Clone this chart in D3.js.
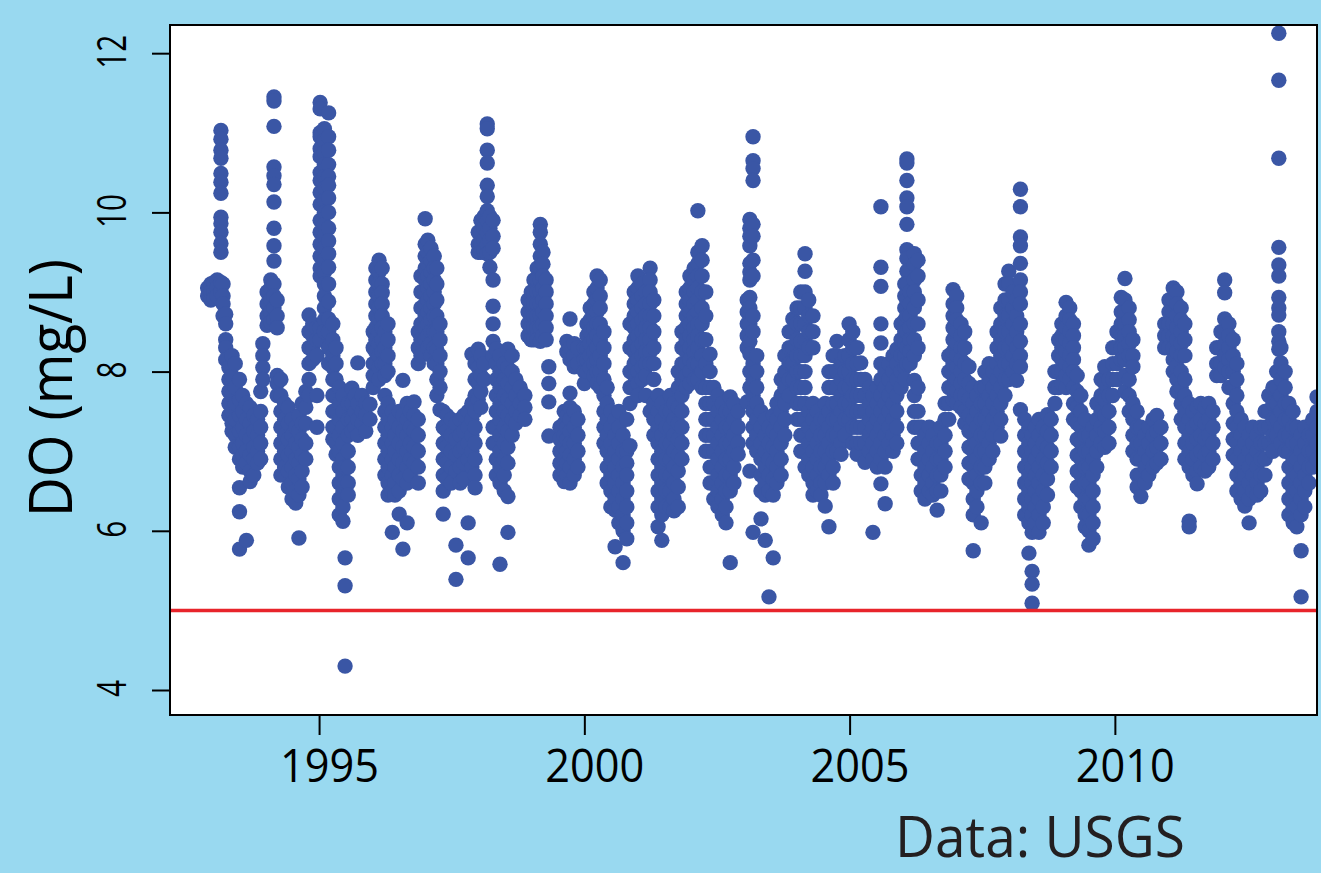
<!DOCTYPE html>
<html>
<head>
<meta charset="utf-8">
<script src="https://cdn.jsdelivr.net/npm/d3@7"></script>
<style>
  html, body { margin: 0; padding: 0; background: #99d9f0; }
  svg { display: block; font-family: "Open Sans", sans-serif; }
</style>
</head>
<body>
<svg id="chart" width="1321" height="873"></svg>
<script>
const xTicks = [1995, 2000, 2005, 2010]
const yTicks = [4, 6, 8, 10, 12]
const xDomain = [1992.19, 2013.81]
const yDomain = [3.686, 12.354]
const doLimit = 5
const yTitle = "DO (mg/L)"
const credit = "Data: USGS"

// each row: [decimal year, DO readings in mg/L ...]
const do1993to1996 = [
  [1992.90, 9.05, 8.95], [1992.96, 9.1, 9.0, 8.9], [1993.02, 9.0, 9.12, 8.92], [1993.08, 9.15, 9.05, 8.95],
  [1993.15, 11.03, 10.92, 10.78, 10.68, 10.49, 10.38, 10.24, 9.94, 9.86, 9.75, 9.61, 9.5, 9.12, 9.0],
  [1993.19, 9.1, 8.95, 8.85, 8.7], [1993.24, 8.72, 8.6, 8.4, 8.3, 8.15], [1993.30, 8.05, 7.9, 7.75, 7.6, 7.45],
  [1993.36, 8.2, 7.95, 7.7, 7.5, 7.35, 7.25], [1993.42, 8.1, 7.8, 7.6, 7.4, 7.2, 7.05],
  [1993.50, 7.9, 7.65, 7.45, 7.25, 7.05, 6.9, 6.54, 6.24, 5.77], [1993.56, 7.7, 7.5, 7.3, 7.1, 6.95, 6.8],
  [1993.63, 7.6, 7.4, 7.2, 7.0, 6.85, 5.88], [1993.70, 7.55, 7.35, 7.15, 6.95, 6.75, 6.62],
  [1993.77, 7.45, 7.25, 7.05, 6.9, 6.7], [1993.84, 7.4, 7.2, 7.0, 6.85], [1993.90, 7.75, 7.5, 7.3, 7.1, 6.9],
  [1993.94, 8.35, 8.2, 8.05, 7.9],
  [1994.02, 9.0, 8.85, 8.7, 8.58], [1994.09, 9.15, 9.05, 8.9, 8.75, 8.62],
  [1994.15, 11.45, 11.4, 11.08, 10.57, 10.46, 10.35, 10.13, 9.8, 9.58, 9.39, 9.1, 8.95, 8.8, 8.65],
  [1994.21, 8.9, 8.7, 8.55, 7.95, 7.85, 7.7], [1994.28, 7.9, 7.7, 7.5, 7.3, 7.1, 6.9, 6.7],
  [1994.35, 7.6, 7.4, 7.2, 7.0, 6.8], [1994.42, 7.55, 7.35, 7.15, 6.95, 6.75, 6.55],
  [1994.49, 7.4, 7.2, 7.0, 6.8, 6.6, 6.4], [1994.56, 7.3, 7.1, 6.9, 6.7, 6.5, 6.35],
  [1994.62, 7.45, 7.25, 7.05, 6.85, 6.65, 6.45, 5.91], [1994.68, 7.6, 7.35, 7.15, 6.95, 6.75, 6.55],
  [1994.75, 7.75, 7.55, 7.35, 7.1, 6.9], [1994.81, 8.71, 8.5, 8.3, 8.1, 7.9, 7.7],
  [1994.88, 8.6, 8.45, 8.3, 8.15], [1994.96, 8.55, 8.4, 8.2, 7.7, 7.3],
  [1995.02, 11.38, 11.3, 11.0, 10.95, 10.8, 10.7, 10.5, 10.4, 10.25, 10.1, 9.9, 9.75, 9.6, 9.45, 9.3, 9.2, 8.55, 8.4],
  [1995.10, 11.05, 10.9, 10.75, 10.6, 10.45, 10.3, 10.15, 10.0, 9.85, 9.7, 9.55, 9.4, 9.25, 9.1, 8.95, 8.8, 8.65, 8.5],
  [1995.18, 11.25, 10.95, 10.78, 10.6, 10.45, 10.34, 10.18, 10.0, 9.8, 9.64, 9.48, 9.31, 9.1, 8.88, 8.66, 8.5, 8.3, 8.1],
  [1995.26, 8.6, 8.4, 8.2, 8.05, 7.9, 7.7, 7.5, 7.3, 7.15], [1995.32, 8.3, 8.1, 7.9, 7.7, 7.5, 7.3, 7.1, 6.96],
  [1995.38, 7.8, 7.6, 7.4, 7.2, 7.0, 6.8, 6.6, 6.4, 6.2], [1995.45, 7.7, 7.5, 7.3, 7.1, 6.9, 6.7, 6.5, 6.3, 6.12],
  [1995.49, 6.8, 6.6, 5.66, 5.31, 4.3], [1995.55, 7.6, 7.4, 7.2, 7.0, 6.8, 6.6, 6.45],
  [1995.62, 7.79, 7.6, 7.4, 7.25], [1995.68, 7.7, 7.5, 7.3], [1995.73, 8.11, 7.6, 7.4, 7.2],
  [1995.81, 7.7, 7.5, 7.35], [1995.88, 7.6, 7.45, 7.25], [1995.96, 7.59, 7.4],
  [1996.02, 8.5, 8.3, 8.1, 7.95, 7.8], [1996.07, 9.3, 9.15, 9.0, 8.85, 8.7, 8.55, 8.4, 8.25, 8.1, 7.95],
  [1996.13, 9.4, 9.25, 9.1, 8.95, 8.8, 8.65, 8.5, 8.35, 8.2, 8.05, 7.9],
  [1996.19, 9.3, 9.1, 8.99, 8.85, 8.7, 8.55, 8.4, 8.25, 8.1],
  [1996.24, 8.5, 8.3, 8.1, 7.95, 7.7, 7.5, 7.3, 7.1, 6.9, 6.7],
  [1996.30, 8.6, 8.4, 8.2, 8.0, 7.6, 7.4, 7.2, 7.0, 6.8, 6.6, 6.45],
  [1996.38, 7.5, 7.3, 7.1, 6.9, 6.7, 6.5, 5.98], [1996.43, 7.4, 7.2, 7.0, 6.8, 6.6, 6.45],
  [1996.51, 7.5, 7.3, 7.1, 6.9, 6.7, 6.5, 6.21], [1996.58, 7.89, 7.45, 7.25, 7.05, 6.85, 6.65, 5.77],
  [1996.66, 7.6, 7.4, 7.2, 7.0, 6.8, 6.6, 6.1], [1996.72, 7.5, 7.3, 7.1, 6.9, 6.7],
  [1996.79, 7.62, 7.45, 7.25, 7.05, 6.85], [1996.87, 8.5, 8.3, 8.1, 7.4, 7.2, 7.0, 6.8, 6.6],
  [1996.92, 9.2, 9.0, 8.8, 8.6, 8.4, 8.2]
]

const do1997to2000 = [
  [1997.00, 9.92, 9.6, 9.45, 9.3, 9.15, 9.0, 8.85, 8.7, 8.55, 8.4],
  [1997.05, 9.65, 9.5, 9.35, 9.2, 9.05, 8.9, 8.75, 8.6, 8.45, 8.3],
  [1997.11, 9.55, 9.4, 9.25, 9.1, 8.95, 8.8, 8.65, 8.5, 8.35, 8.2],
  [1997.17, 9.45, 9.3, 9.15, 9.0, 8.85, 8.7, 8.5, 8.3, 8.1],
  [1997.22, 9.3, 9.1, 8.9, 8.7, 8.5, 8.27, 8.1, 7.9, 7.7], [1997.28, 8.6, 8.4, 8.2, 8.0, 7.8, 7.52],
  [1997.34, 7.5, 7.3, 7.1, 6.9, 6.7, 6.5, 6.21], [1997.41, 7.45, 7.25, 7.05, 6.85, 6.65],
  [1997.49, 7.4, 7.2, 7.0, 6.8, 6.6], [1997.58, 7.35, 7.15, 6.95, 6.75, 5.82, 5.39],
  [1997.66, 7.4, 7.2, 7.0, 6.8, 6.6], [1997.73, 7.45, 7.25, 7.05, 6.85, 6.65],
  [1997.81, 7.5, 7.3, 7.1, 6.9, 6.1, 5.66], [1997.88, 8.22, 7.6, 7.4, 7.2, 7.0, 6.8],
  [1997.94, 8.1, 7.9, 7.7, 7.5, 7.3, 7.1, 6.9, 6.7, 6.54],
  [1998.00, 9.75, 9.6, 9.5, 8.28, 8.05, 7.85, 7.65], [1998.05, 9.9, 9.75, 9.62, 9.5, 8.2, 7.95, 7.75, 7.55],
  [1998.11, 9.95, 9.8, 9.65, 9.52, 8.1, 7.9],
  [1998.17, 11.11, 11.05, 10.78, 10.62, 10.34, 10.2, 10.02, 9.9, 9.75, 9.6, 9.48],
  [1998.22, 9.95, 9.8, 9.65, 9.5, 9.31], [1998.28, 9.9, 9.7, 9.55, 9.15, 8.82, 8.6, 8.38, 8.2, 7.3, 7.1],
  [1998.34, 8.28, 8.1, 7.9, 7.7, 7.5, 7.3, 7.1, 6.9, 6.7],
  [1998.41, 8.2, 8.0, 7.8, 7.6, 7.4, 7.2, 7.0, 6.8, 6.6, 5.58],
  [1998.49, 8.1, 7.9, 7.7, 7.5, 7.3, 7.1, 6.9, 6.7, 6.5],
  [1998.56, 8.28, 8.05, 7.85, 7.65, 7.45, 7.25, 7.05, 6.85, 6.43, 5.98],
  [1998.64, 8.2, 8.0, 7.8, 7.6, 7.4, 7.2], [1998.71, 7.9, 7.7, 7.5, 7.35], [1998.79, 7.8, 7.6, 7.45],
  [1998.88, 7.7, 7.55, 7.4], [1998.94, 8.9, 8.75, 8.6, 8.45], [1999.00, 9.0, 8.85, 8.7, 8.55, 8.4],
  [1999.05, 9.15, 9.0, 8.85, 8.7, 8.55, 8.4], [1999.11, 9.3, 9.15, 9.0, 8.85, 8.7, 8.55, 8.4],
  [1999.17, 9.85, 9.75, 9.6, 9.45, 9.3, 9.15, 9.0, 8.85, 8.7, 8.55, 8.38],
  [1999.22, 9.5, 9.35, 9.2, 9.05, 8.9, 8.75, 8.6, 8.45], [1999.28, 9.15, 9.0, 8.85, 8.7, 8.55, 8.4],
  [1999.33, 8.06, 7.85, 7.62, 7.19], [1999.54, 7.3, 7.15, 7.0, 6.85, 6.7],
  [1999.62, 7.5, 7.35, 7.2, 7.05, 6.9, 6.75, 6.62], [1999.67, 8.38, 8.25, 7.45, 7.3, 7.15, 7.0, 6.85, 6.7],
  [1999.73, 8.66, 8.3, 8.15, 7.73, 7.55, 7.4, 7.25, 7.1, 6.95, 6.8, 6.6],
  [1999.81, 8.35, 8.2, 8.06, 7.5, 7.3, 7.1, 6.9, 6.7], [1999.88, 8.3, 8.1, 7.4, 7.2, 7.0, 6.8],
  [2000.00, 8.3, 8.15, 8.0, 7.85], [2000.05, 8.6, 8.45, 8.3, 8.15, 8.0],
  [2000.11, 8.8, 8.65, 8.5, 8.35, 8.2, 8.05], [2000.18, 9.0, 8.85, 8.7, 8.55, 8.4, 8.25, 8.1, 7.95],
  [2000.24, 9.2, 9.05, 8.9, 8.75, 8.6, 8.45, 8.3, 8.15, 8.0, 7.85],
  [2000.30, 9.15, 8.95, 8.8, 8.6, 8.4, 8.2, 8.0, 7.8], [2000.37, 8.5, 8.3, 8.1, 7.9, 7.7, 7.5, 7.3, 7.1],
  [2000.43, 7.8, 7.6, 7.4, 7.2, 7.0, 6.8, 6.6], [2000.50, 7.5, 7.3, 7.1, 6.9, 6.7, 6.5, 6.3],
  [2000.58, 7.4, 7.2, 7.0, 6.8, 6.6, 6.4, 6.26, 5.8], [2000.65, 7.5, 7.3, 7.1, 6.9, 6.7, 6.5, 6.3, 6.1],
  [2000.73, 7.2, 7.0, 6.8, 6.6, 6.4, 6.2, 6.0, 5.6], [2000.80, 7.4, 7.0, 6.85, 6.7, 6.5, 6.3, 6.1, 5.9],
  [2000.86, 8.6, 8.3, 8.0, 7.8, 7.6, 7.07], [2000.94, 9.0, 8.85, 8.7, 8.55, 8.4, 8.25, 8.1, 7.95, 7.8]
]

const do2001to2004 = [
  [2001.01, 9.2, 9.05, 8.9, 8.75, 8.6, 8.45, 8.3, 8.15, 8.0, 7.85, 7.7],
  [2001.09, 9.1, 8.95, 8.8, 8.65, 8.5, 8.35, 8.2, 8.05, 7.9],
  [2001.16, 9.0, 8.85, 8.7, 8.55, 8.4, 8.25, 8.1, 7.95, 7.7],
  [2001.24, 9.3, 9.15, 9.0, 8.85, 8.7, 8.55, 8.4, 8.25, 8.1, 7.5],
  [2001.31, 8.9, 8.7, 8.5, 8.3, 8.1, 7.9, 7.6, 7.4, 7.2],
  [2001.39, 7.7, 7.5, 7.3, 7.1, 6.9, 6.7, 6.5, 6.3, 6.05],
  [2001.46, 7.6, 7.4, 7.2, 7.0, 6.8, 6.6, 6.4, 6.2, 5.88], [2001.54, 7.5, 7.3, 7.1, 6.9, 6.7, 6.5, 6.3],
  [2001.62, 7.7, 7.5, 7.3, 7.1, 6.9, 6.7, 6.5, 6.3], [2001.69, 7.6, 7.4, 7.2, 7.0, 6.8, 6.6, 6.4, 6.25],
  [2001.77, 8.0, 7.8, 7.55, 7.35, 7.15, 6.95, 6.75, 6.55, 6.3],
  [2001.84, 8.5, 8.3, 8.1, 7.9, 7.7, 7.5, 7.3, 7.1, 6.9],
  [2001.92, 9.0, 8.85, 8.7, 8.55, 8.4, 8.25, 8.1, 7.95, 7.8],
  [2001.99, 9.2, 9.05, 8.9, 8.75, 8.6, 8.45, 8.3, 8.15, 8.0, 7.85],
  [2002.07, 9.3, 9.15, 9.0, 8.85, 8.7, 8.55, 8.4, 8.25, 8.1, 7.9],
  [2002.14, 10.02, 9.5, 9.36, 9.2, 9.05, 8.9, 8.75, 8.6, 8.45, 8.3, 8.1, 7.9],
  [2002.22, 9.58, 9.4, 9.2, 9.0, 8.8, 8.6, 8.4, 8.2, 8.0, 7.8],
  [2002.29, 9.0, 8.7, 8.4, 8.1, 7.8, 7.6, 7.4, 7.2, 7.0],
  [2002.37, 8.22, 8.0, 7.8, 7.6, 7.4, 7.2, 7.0, 6.8, 6.6], [2002.44, 7.8, 7.6, 7.4, 7.2, 7.0, 6.8, 6.6, 6.4],
  [2002.52, 7.7, 7.5, 7.3, 7.1, 6.9, 6.7, 6.5, 6.3], [2002.60, 7.6, 7.4, 7.2, 7.0, 6.8, 6.6, 6.4, 6.2],
  [2002.67, 7.5, 7.3, 7.1, 6.9, 6.7, 6.5, 6.3, 6.1], [2002.75, 7.68, 7.5, 7.3, 7.1, 6.9, 6.7, 6.5, 5.6],
  [2002.82, 7.6, 7.4, 7.2, 7.0, 6.8, 6.6], [2002.90, 7.5, 7.3, 7.1, 6.96],
  [2003.07, 8.9, 8.75, 8.6, 8.45, 8.3, 7.62],
  [2003.12, 9.91, 9.8, 9.7, 9.58, 9.36, 9.25, 9.15, 8.93, 8.8, 8.6, 8.38, 8.22, 8.0, 7.8, 6.75],
  [2003.18, 10.95, 10.65, 10.55, 10.4, 9.85, 9.7, 9.4, 9.2, 8.7, 8.5, 8.1, 7.9, 7.7, 7.5, 7.3, 7.1, 5.98],
  [2003.25, 8.2, 8.0, 7.8, 7.6, 7.4, 7.2, 7.0], [2003.33, 7.5, 7.3, 7.1, 6.9, 6.7, 6.5, 6.15],
  [2003.41, 7.4, 7.2, 7.0, 6.8, 6.6, 6.45, 5.88], [2003.48, 7.3, 7.1, 6.9, 6.7, 6.5, 5.17],
  [2003.56, 7.45, 7.25, 7.05, 6.85, 6.65, 6.45, 5.66], [2003.63, 7.6, 7.4, 7.2, 7.0, 6.8, 6.6],
  [2003.71, 7.9, 7.7, 7.5, 7.3, 7.1, 6.9, 6.7], [2003.78, 8.2, 8.0, 7.8, 7.6, 7.4, 7.2],
  [2003.86, 8.5, 8.3, 8.1, 7.9, 7.7], [2003.93, 8.66, 8.5, 8.3, 8.1, 7.9],
  [2004.01, 8.8, 8.6, 8.4, 8.2, 8.0, 7.8, 7.6, 7.4],
  [2004.08, 9.0, 8.8, 8.6, 8.38, 8.2, 8.0, 7.8, 7.6, 7.4, 7.2, 7.0],
  [2004.16, 9.48, 9.26, 9.0, 8.8, 8.6, 8.4, 8.2, 8.0, 7.8, 7.6, 7.4, 7.2, 7.0, 6.8],
  [2004.23, 8.9, 8.7, 8.5, 8.3, 7.5, 7.3, 7.1, 6.9, 6.7],
  [2004.31, 8.7, 8.5, 8.3, 7.6, 7.4, 7.2, 7.0, 6.8, 6.6, 6.45],
  [2004.39, 7.5, 7.3, 7.1, 6.9, 6.7, 6.5], [2004.46, 7.4, 7.2, 7.0, 6.8, 6.6, 6.45],
  [2004.54, 7.6, 7.4, 7.2, 7.0, 6.8, 6.6, 6.31], [2004.61, 8.0, 7.8, 7.5, 7.3, 7.1, 6.9, 6.7, 6.05],
  [2004.69, 8.2, 8.0, 7.8, 7.6, 7.4, 7.2, 7.0, 6.8, 6.6], [2004.76, 8.38, 8.2, 8.0, 7.8, 7.6, 7.4, 7.2, 7.0],
  [2004.84, 8.1, 7.9, 7.7, 7.5, 7.3, 7.1, 6.96], [2004.91, 8.2, 8.0, 7.8, 7.6, 7.4, 7.2],
  [2004.99, 8.6, 8.4, 8.2, 8.0, 7.8, 7.6, 7.4]
]

const do2005to2008 = [
  [2005.06, 8.5, 8.3, 8.1, 7.9, 7.7, 7.5, 7.3, 7.1], [2005.14, 8.3, 8.1, 7.9, 7.7, 7.5, 7.3, 7.1, 6.96],
  [2005.21, 8.11, 7.9, 7.7, 7.5, 7.3, 7.1], [2005.29, 7.9, 7.7, 7.5, 7.3, 7.1, 6.86],
  [2005.37, 7.8, 7.6, 7.4, 7.2, 7.0], [2005.44, 7.7, 7.5, 7.3, 7.1, 6.9, 5.98],
  [2005.52, 7.8, 7.6, 7.4, 7.2, 7.0, 6.8],
  [2005.59, 10.07, 9.31, 9.07, 8.6, 8.36, 8.1, 7.9, 7.7, 7.5, 7.3, 7.1, 6.9, 6.59],
  [2005.67, 8.0, 7.8, 7.6, 7.4, 7.2, 7.0, 6.8, 6.34], [2005.74, 8.1, 7.9, 7.7, 7.5, 7.3, 7.1],
  [2005.82, 8.2, 8.0, 7.8, 7.6, 7.4, 7.2, 7.0], [2005.89, 8.28, 8.1, 7.9, 7.7, 7.5, 7.3, 7.1],
  [2005.97, 8.6, 8.4, 8.2, 8.0, 7.8], [2006.04, 9.1, 8.95, 8.8, 8.65, 8.5, 8.35, 8.2, 8.05, 7.9],
  [2006.08, 10.67, 10.62, 10.4, 10.18, 10.07, 9.85, 9.53, 9.42, 9.26, 9.1, 8.9, 8.7, 8.5, 8.3, 8.1],
  [2006.14, 9.0, 8.85, 8.7, 8.55, 8.4, 8.25, 8.1],
  [2006.22, 9.48, 9.35, 9.15, 9.0, 8.8, 8.6, 8.4, 8.2, 7.89, 7.7, 7.5, 7.3],
  [2006.29, 9.4, 9.2, 8.9, 8.6, 8.3, 7.8, 7.5, 7.3, 7.1, 6.9], [2006.35, 7.3, 7.1, 6.9, 6.7, 6.5],
  [2006.42, 7.2, 7.0, 6.8, 6.6, 6.4], [2006.50, 7.3, 7.1, 6.9, 6.7, 6.5], [2006.57, 7.2, 7.0, 6.8, 6.6, 6.45],
  [2006.65, 7.1, 6.9, 6.7, 6.5, 6.26], [2006.72, 7.3, 7.1, 6.9, 6.7, 6.5], [2006.80, 7.6, 7.4, 7.2, 7.0, 6.8],
  [2006.87, 8.2, 8.0, 7.8, 7.6, 7.4], [2006.95, 9.03, 8.85, 8.7, 8.55, 8.4, 8.25, 8.1, 7.95, 7.8, 7.65],
  [2007.02, 8.95, 8.8, 8.65, 8.5, 8.35, 8.2, 8.05, 7.9, 7.75, 7.6],
  [2007.10, 8.6, 8.45, 8.3, 8.15, 8.0, 7.85, 7.7, 7.55], [2007.17, 8.5, 8.3, 8.1, 7.9, 7.7, 7.5, 7.35],
  [2007.25, 8.06, 7.85, 7.65, 7.45, 7.25, 7.05, 6.85, 6.65],
  [2007.33, 7.8, 7.6, 7.4, 7.2, 7.0, 6.8, 6.6, 6.4, 6.2, 5.75], [2007.40, 7.7, 7.5, 7.3, 7.1, 6.9, 6.7, 6.5, 6.3],
  [2007.48, 7.8, 7.6, 7.4, 7.2, 7.0, 6.8, 6.6, 6.1], [2007.55, 8.0, 7.8, 7.6, 7.4, 7.2, 7.0, 6.8, 6.6],
  [2007.63, 8.1, 7.9, 7.7, 7.5, 7.3, 7.1, 6.9], [2007.70, 8.0, 7.8, 7.6, 7.4, 7.2, 7.0],
  [2007.78, 8.5, 8.3, 8.1, 7.9, 7.7, 7.5, 7.3], [2007.85, 8.8, 8.6, 8.4, 8.2, 8.0, 7.8, 7.6, 7.4, 7.19],
  [2007.93, 9.1, 8.9, 8.7, 8.5, 8.3, 8.1, 7.9, 7.7], [2008.00, 9.26, 9.1, 8.9, 8.7, 8.5, 8.3, 8.1, 7.9],
  [2008.08, 9.0, 8.8, 8.6, 8.4, 8.2, 8.0], [2008.15, 8.9, 8.7, 8.5, 8.3, 8.1, 7.89],
  [2008.22, 10.29, 10.07, 9.69, 9.58, 9.36, 9.15, 9.0, 8.85, 8.6, 8.38, 8.2, 8.06, 7.52],
  [2008.30, 7.4, 7.2, 7.0, 6.8, 6.6, 6.4, 6.2], [2008.38, 7.3, 7.1, 6.9, 6.7, 6.5, 6.3, 6.1, 5.72],
  [2008.44, 7.2, 7.0, 6.8, 6.6, 6.4, 6.2, 5.98, 5.49, 5.33, 5.09],
  [2008.50, 7.3, 7.1, 6.9, 6.7, 6.5, 6.3, 6.1], [2008.57, 7.4, 7.2, 7.0, 6.8, 6.6, 6.4, 6.2, 5.98],
  [2008.65, 7.3, 7.1, 6.9, 6.7, 6.5, 6.3, 6.1], [2008.73, 7.46, 7.25, 7.05, 6.85, 6.65, 6.45],
  [2008.80, 7.4, 7.2, 7.0, 6.8], [2008.87, 8.0, 7.8, 7.6], [2008.94, 8.4, 8.2, 8.0, 7.8]
]

const do2009to2013 = [
  [2009.00, 8.6, 8.45, 8.3, 8.15, 8.0, 7.85], [2009.08, 8.87, 8.7, 8.55, 8.4, 8.25, 8.1, 7.95, 7.8],
  [2009.15, 8.8, 8.65, 8.5, 8.35, 8.2, 8.05, 7.9], [2009.22, 8.6, 8.45, 8.3, 8.15, 8.0, 7.8, 7.6, 7.4],
  [2009.29, 7.95, 7.75, 7.55, 7.35, 7.15, 6.95, 6.75, 6.55], [2009.36, 7.7, 7.5, 7.3, 7.1, 6.9, 6.7, 6.5, 6.3],
  [2009.44, 7.4, 7.2, 7.0, 6.8, 6.6, 6.4, 6.2, 6.05], [2009.51, 7.2, 7.0, 6.8, 6.6, 6.4, 6.2, 6.0, 5.82],
  [2009.59, 7.3, 7.1, 6.9, 6.7, 6.5, 6.3, 6.1, 5.9], [2009.66, 7.6, 7.4, 7.2, 7.0, 6.8],
  [2009.74, 7.9, 7.7, 7.5, 7.3, 7.1], [2009.81, 8.06, 7.85, 7.65, 7.45, 7.25, 7.05],
  [2009.89, 7.9, 7.7, 7.5, 7.3, 7.1], [2009.96, 8.3, 8.1, 7.9, 7.7], [2010.04, 8.5, 8.3, 8.1, 7.9],
  [2010.12, 8.93, 8.75, 8.6, 8.45, 8.3, 8.15], [2010.19, 9.17, 8.9, 8.75, 8.6, 8.45, 8.3, 8.15, 7.95, 7.75],
  [2010.27, 8.8, 8.65, 8.5, 8.35, 8.2, 7.9, 7.7, 7.5], [2010.34, 8.4, 8.2, 8.06, 7.6, 7.4, 7.2, 7.0],
  [2010.42, 7.5, 7.3, 7.1, 6.9, 6.7, 6.55], [2010.49, 7.3, 7.1, 6.9, 6.7, 6.43], [2010.57, 7.2, 7.0, 6.8, 6.6],
  [2010.64, 7.3, 7.1, 6.9, 6.7], [2010.72, 7.4, 7.2, 7.0, 6.8], [2010.79, 7.45, 7.25, 7.05, 6.85],
  [2010.87, 7.3, 7.1, 6.9], [2010.94, 8.6, 8.45, 8.3], [2011.02, 8.9, 8.75, 8.6, 8.45, 8.3],
  [2011.10, 9.05, 8.9, 8.75, 8.6, 8.45, 8.3, 8.15, 8.0], [2011.17, 9.0, 8.85, 8.7, 8.55, 8.4, 8.25, 8.06, 7.9, 7.75],
  [2011.25, 8.8, 8.65, 8.5, 8.35, 8.2, 8.0, 7.8, 7.6, 7.4], [2011.32, 8.6, 8.4, 8.2, 7.9, 7.7, 7.5, 7.3, 7.1, 6.9],
  [2011.40, 7.6, 7.4, 7.2, 7.0, 6.8, 6.12, 6.05], [2011.47, 7.5, 7.3, 7.1, 6.9, 6.7],
  [2011.55, 7.55, 7.35, 7.15, 6.95, 6.75, 6.59], [2011.62, 7.6, 7.4, 7.2, 7.0, 6.8],
  [2011.70, 7.55, 7.35, 7.15, 6.95, 6.75], [2011.77, 7.6, 7.4, 7.2, 7.0, 6.8], [2011.85, 7.5, 7.3, 7.1, 6.9],
  [2011.92, 8.3, 8.1, 7.95], [2012.00, 8.5, 8.3, 8.1, 7.95], [2012.07, 9.15, 8.99, 8.66, 8.5, 8.35, 8.2, 8.05],
  [2012.15, 8.6, 8.45, 8.3, 8.15, 8.0, 7.8], [2012.23, 8.4, 8.2, 8.0, 7.8, 7.6, 7.35, 7.15, 6.95],
  [2012.30, 8.1, 7.9, 7.7, 7.5, 7.3, 7.1, 6.9, 6.7, 6.5], [2012.38, 7.4, 7.2, 7.0, 6.8, 6.6, 6.4],
  [2012.45, 7.3, 7.1, 6.9, 6.7, 6.5, 6.31], [2012.53, 7.2, 7.0, 6.8, 6.6, 6.4, 6.1],
  [2012.60, 7.3, 7.1, 6.9, 6.7, 6.5], [2012.68, 7.2, 7.0, 6.8, 6.6, 6.45], [2012.75, 7.3, 7.1, 6.9, 6.7, 6.5],
  [2012.83, 7.5, 7.3, 7.1, 6.9, 6.7], [2012.90, 7.7, 7.5, 7.3, 7.1], [2012.98, 7.8, 7.6, 7.4, 7.2, 7.0],
  [2013.05, 8.0, 7.8, 7.6, 7.4, 7.2],
  [2013.09, 12.25, 11.66, 10.68, 9.56, 9.34, 9.2, 8.93, 8.8, 8.71, 8.5, 8.38, 8.28],
  [2013.13, 8.3, 8.11, 7.9, 7.7, 7.5, 7.3, 7.1], [2013.21, 8.0, 7.8, 7.6, 7.4, 7.2, 7.0],
  [2013.28, 7.6, 7.4, 7.2, 7.0, 6.8, 6.6, 6.4, 6.2], [2013.36, 7.5, 7.3, 7.1, 6.9, 6.7, 6.5, 6.3, 6.1],
  [2013.43, 7.3, 7.1, 6.9, 6.7, 6.5, 6.3, 6.05], [2013.51, 7.2, 7.0, 6.8, 6.6, 6.4, 6.2, 5.75, 5.17],
  [2013.58, 7.3, 7.1, 6.9, 6.7, 6.5, 6.3], [2013.66, 7.2, 7.0, 6.8, 6.6], [2013.73, 7.4, 7.2, 7.0, 6.8],
  [2013.81, 7.68, 7.5, 7.3, 7.1, 6.9]
]

const width = 1321, height = 873
const plot = {left: 170, top: 25, right: 1317, bottom: 715}
const bg = "#99d9f0", dotColor = "#3a56a5", limitColor = "#e8242b"

const svg = d3.select("#chart")
svg.append("rect").attr("width", width).attr("height", height).attr("fill", bg)

const x = d3.scaleLinear().domain(xDomain).range([plot.left, plot.right])
const y = d3.scaleLinear().domain(yDomain).range([plot.bottom, plot.top])

svg.append("rect")
    .attr("x", plot.left).attr("y", plot.top)
    .attr("width", plot.right - plot.left).attr("height", plot.bottom - plot.top)
    .attr("fill", "#fff")

svg.append("clipPath").attr("id", "plot-clip")
  .append("rect")
    .attr("x", plot.left).attr("y", plot.top)
    .attr("width", plot.right - plot.left).attr("height", plot.bottom - plot.top)

// flatten rows into single readings
const readings = [do1993to1996, do1997to2000, do2001to2004, do2005to2008, do2009to2013]
  .flat()
  .flatMap(([t, ...vals]) => vals.map(v => ({t, v})))

const inner = svg.append("g").attr("clip-path", "url(#plot-clip)")
inner.selectAll("circle.obs")
  .data(readings)
  .join("circle")
    .attr("class", "obs")
    .attr("cx", d => x(d.t))
    .attr("cy", d => y(d.v))
    .attr("r", 7.7)
    .attr("fill", dotColor)

// 5 mg/L line
inner.append("line")
    .attr("x1", plot.left).attr("x2", plot.right)
    .attr("y1", y(doLimit)).attr("y2", y(doLimit))
    .attr("stroke", limitColor).attr("stroke-width", 3.5)

svg.append("rect")
    .attr("x", plot.left).attr("y", plot.top)
    .attr("width", plot.right - plot.left).attr("height", plot.bottom - plot.top)
    .attr("fill", "none").attr("stroke", "#000").attr("stroke-width", 2)

// x axis
const gx = svg.append("g")
    .attr("transform", `translate(0,${plot.bottom})`)
    .call(d3.axisBottom(x).tickValues(xTicks).tickSize(20).tickFormat(d3.format("d")))
gx.select(".domain").remove()
gx.selectAll(".tick line").attr("stroke", "#000").attr("stroke-width", 2)
gx.selectAll(".tick text")
    .attr("y", 67).attr("dy", null).attr("x", 10)
    .attr("font-size", 45).attr("fill", "#000")
    .attr("font-family", "'Open Sans', sans-serif")
    .attr("textLength", 99).attr("lengthAdjust", "spacingAndGlyphs")

// y axis, labels turned like base R
const gy = svg.append("g")
    .attr("transform", `translate(${plot.left},0)`)
    .call(d3.axisLeft(y).tickValues(yTicks).tickSize(18))
gy.select(".domain").remove()
gy.selectAll(".tick line").attr("stroke", "#000").attr("stroke-width", 2)
gy.selectAll(".tick text")
    .attr("x", null).attr("dy", null)
    .attr("text-anchor", "middle")
    .attr("transform", "translate(-44,-2) rotate(-90)")
    .attr("font-size", 40).attr("fill", "#000")
    .attr("font-family", "'Open Sans', sans-serif")
    .attr("textLength", d => String(d).length * 17).attr("lengthAdjust", "spacingAndGlyphs")

svg.append("text")
    .attr("transform", `translate(72,${(260 + 516) / 2}) rotate(-90)`)
    .attr("text-anchor", "middle")
    .attr("font-size", 60).attr("fill", "#000")
    .attr("textLength", 258).attr("lengthAdjust", "spacingAndGlyphs")
    .text(yTitle)

svg.append("text")
    .attr("x", 895).attr("y", 857)
    .attr("font-size", 56).attr("fill", "#231f20")
    .attr("textLength", 290).attr("lengthAdjust", "spacingAndGlyphs")
    .text(credit)
</script>
</body>
</html>
